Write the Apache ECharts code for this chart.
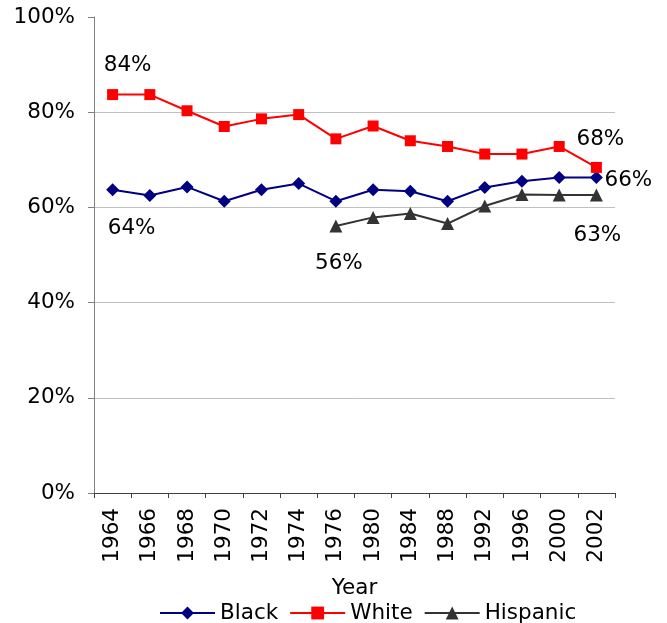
<!DOCTYPE html>
<html>
<head>
<meta charset="utf-8">
<script src="https://cdn.jsdelivr.net/npm/echarts@6/dist/echarts.min.js"></script>
<style>
html,body{margin:0;padding:0;background:#fff;}
#chart{width:667px;height:623px;}
</style>
</head>
<body>
<div id="chart"></div>
<script>
const years = ['1964','1966','1968','1970','1972','1974','1976','1980','1984','1988','1992','1996','2000','2002'];
const black = [63.7, 62.5, 64.3, 61.3, 63.7, 65.0, 61.3, 63.7, 63.4, 61.3, 64.2, 65.5, 66.3, 66.3];
const white = [83.7, 83.7, 80.3, 77.0, 78.6, 79.5, 74.4, 77.1, 74.0, 72.8, 71.2, 71.2, 72.8, 68.4];
const hispanic = [null, null, null, null, null, null, 56.1, 57.9, 58.7, 56.6, 60.3, 62.7, 62.6, 62.6];
const yTicks = [0, 20, 40, 60, 80, 100];

const FONT = 'DejaVu Sans';
const FS = 21.5;

// label placement per series: index -> offset
const labelSpots = {
  Black: {0: [19, 39], 13: [32, 3]},
  White: {0: [15, -29], 13: [4, -28]},
  Hispanic: {6: [3, 37], 13: [1, 40]}
};

function buildData(name, values) {
  return values.map((v, i) => {
    const spot = labelSpots[name][i];
    if (v == null || !spot) return v;
    return {
      value: v,
      label: {
        show: true,
        position: 'inside',
        offset: spot,
        align: 'center',
        verticalAlign: 'middle',
        fontFamily: FONT,
        fontSize: FS,
        color: '#000',
        formatter: p => Math.round(p.value) + '%'
      }
    };
  });
}

const chart = echarts.init(document.getElementById('chart'), null, {renderer: 'canvas'});
chart.setOption({
  animation: false,
  textStyle: {fontFamily: FONT},
  grid: {left: 94, right: 52, top: 17, bottom: 130, containLabel: false},
  legend: {
    left: 154,
    top: 597,
    itemWidth: 55,
    itemHeight: 16,
    itemGap: 11,
    textStyle: {fontFamily: FONT, fontSize: FS, color: '#000'},
    data: ['Black', 'White', 'Hispanic']
  },
  xAxis: {
    type: 'category',
    data: years,
    boundaryGap: true,
    name: 'Year',
    nameLocation: 'middle',
    nameGap: 84,
    nameTextStyle: {fontFamily: FONT, fontSize: FS, color: '#000'},
    axisLine: {show: true, lineStyle: {color: '#404040', width: 1}},
    axisTick: {show: true, length: 5, lineStyle: {color: '#404040'}},
    axisLabel: {rotate: 90, margin: 15, fontFamily: FONT, fontSize: FS, color: '#000', interval: 0},
    splitLine: {show: false}
  },
  yAxis: {
    type: 'value',
    min: yTicks[0],
    max: yTicks[yTicks.length - 1],
    interval: 20,
    axisLine: {show: true, lineStyle: {color: '#808080', width: 1}},
    axisTick: {show: true, length: 6, lineStyle: {color: '#808080'}},
    axisLabel: {margin: 19, fontFamily: FONT, fontSize: FS, color: '#000', formatter: '{value}%'},
    splitLine: {show: true, showMaxLine: false, showMinLine: false, lineStyle: {color: '#c0c0c0', width: 1}}
  },
  series: [
    {
      name: 'Black', type: 'line', data: buildData('Black', black),
      symbol: 'diamond', symbolSize: 13,
      lineStyle: {color: '#000080', width: 2},
      itemStyle: {color: '#000080'}
    },
    {
      name: 'White', type: 'line', data: buildData('White', white),
      symbol: 'rect', symbolSize: 11,
      lineStyle: {color: '#ff0000', width: 2},
      itemStyle: {color: '#ff0000'}
    },
    {
      name: 'Hispanic', type: 'line', data: buildData('Hispanic', hispanic),
      symbol: 'triangle', symbolSize: 13,
      connectNulls: false,
      lineStyle: {color: '#333333', width: 2},
      itemStyle: {color: '#333333'}
    }
  ]
});
</script>
</body>
</html>
